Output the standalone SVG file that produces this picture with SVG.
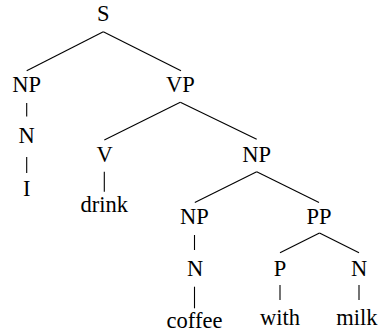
<svg xmlns="http://www.w3.org/2000/svg" width="382" height="333" viewBox="0 0 382 333">
<style>
text{font-family:'Liberation Serif','Times New Roman',serif;font-size:22.5px;fill:#000;text-anchor:middle}
line{stroke:#000;stroke-width:1.1}
</style>
<rect width="382" height="333" fill="#fff"/>
<g id="edges">
<line x1="103.3" y1="31.7" x2="26.7" y2="70.7"/>
<line x1="103.3" y1="31.7" x2="181" y2="70.7"/>
<line x1="26.7" y1="103" x2="26.7" y2="116.5"/>
<line x1="26.7" y1="157" x2="26.7" y2="173"/>
<line x1="180.3" y1="102.3" x2="104.3" y2="140"/>
<line x1="180.3" y1="102.3" x2="256.7" y2="139.3"/>
<line x1="104.3" y1="171.7" x2="104.3" y2="191.7"/>
<line x1="256.7" y1="171.7" x2="194.8" y2="202.5"/>
<line x1="256.7" y1="171.7" x2="319" y2="202.5"/>
<line x1="194.5" y1="235" x2="194.5" y2="250"/>
<line x1="319.5" y1="233" x2="280" y2="252.7"/>
<line x1="319.5" y1="233" x2="359" y2="252.7"/>
<line x1="194.5" y1="286.7" x2="194.5" y2="308.3"/>
<line x1="280" y1="285" x2="280" y2="300"/>
<line x1="359" y1="285" x2="359" y2="300"/>
</g>
<g id="S"><text x="103.3" y="20.7">S</text></g>
<g id="NP1"><text x="26.7" y="91.7">NP</text></g>
<g id="VP"><text x="180.5" y="91.7">VP</text></g>
<g id="N1"><text x="26.7" y="143">N</text></g>
<g id="I"><text x="26.7" y="196">I</text></g>
<g id="V"><text x="104.5" y="161.7">V</text></g>
<g id="drink"><text x="104.3" y="211.7">drink</text></g>
<g id="NP2"><text x="256.7" y="161.7">NP</text></g>
<g id="NP3"><text x="194.3" y="224">NP</text></g>
<g id="PP"><text x="319" y="224">PP</text></g>
<g id="N2"><text x="195" y="275.7">N</text></g>
<g id="coffee"><text x="194.5" y="328.3">coffee</text></g>
<g id="P"><text x="280" y="275.7">P</text></g>
<g id="with"><text x="280" y="325">with</text></g>
<g id="N3"><text x="359" y="275.7">N</text></g>
<g id="milk"><text x="357" y="325">milk</text></g>
</svg>
